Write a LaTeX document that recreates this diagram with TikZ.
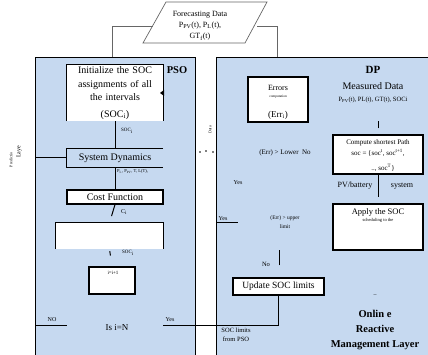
\documentclass[tikz,border=0pt]{standalone}
\usepackage{fontspec}
\setmainfont{Liberation Serif}
\usepackage{xcolor}
\usepackage{tikz}
\definecolor{layerblue}{RGB}{198,217,240}

\begin{document}
\begin{tikzpicture}[x=1pt,y=-1pt,
  layer/.style={draw=black,line width=1.2pt,fill=layerblue,inner sep=0pt},
  wbox/.style={fill=white,inner sep=0pt,align=center},
  bx/.style={draw=black,line width=1.2pt,fill=white,inner sep=0pt,align=center},
  edge/.style={line width=1.2pt},
  flow/.style={line width=1pt},
  thinline/.style={draw=black!60,line width=0.7pt},
  lbl/.style={inner sep=0pt,align=center,font=\fontsize{6}{7}\selectfont},
  txt/.style={inner sep=0pt,align=center,font=\fontsize{10}{14}\selectfont}]
\useasboundingbox (0,0) rectangle (428,355);
\clip (0,0) rectangle (428,355);
%\draw[color=black!20,step=10] (0,0) grid (428,355);

% forecasting data
\draw[thinline] (143,43) -- (166,2) -- (267,2) -- (245,43) -- cycle;
\node[inner sep=0pt,align=center,font=\fontsize{8}{11}\selectfont] (fc) at (200,26)
  {Forecasting Data\\P\textsubscript{PV}(t), P\textsubscript{L}(t),\\GT\textsubscript{f}(t)};
\coordinate (fcL) at (153,26);
\coordinate (fcR) at (257,26);

% the two layers
\node[layer,minimum width=160,minimum height=330,anchor=north west] (pso) at (35,57) {};
\node[layer,minimum width=224,minimum height=330,anchor=north west] (dp) at (216,57) {};
\draw[thinline] (fcL) -- (112,26) -- (112,57);
\draw[thinline] (fcR) -- (277,26) -- (277,57);

% PSO
\node[wbox,text width=92,minimum width=96,minimum height=56,font=\fontsize{10}{13.5}\selectfont] (init) at (115,93)
  {Initialize the SOC\\assignments of all\\the intervals\\[3pt](SOC\textsubscript{i})};
\draw[edge] (init.south west) -- (init.north west) -- (init.north east) -- (init.south east);
\fill (160,93) -- (164,90) -- (164,96) -- cycle;
\node[inner sep=0pt,font=\bfseries\fontsize{10.5}{12}\selectfont] (psot) at (177,70) {PSO};

\node[txt,minimum width=96,minimum height=19] (sd) at (115,158) {System Dynamics};
\draw[edge] (sd.north east) -- (sd.north west) -- (sd.south west) -- (sd.south east);
\draw[flow] (pso.west |- sd.west) -- (sd.west);
\node[lbl,anchor=west,font=\fontsize{4.5}{5}\selectfont] at (117,171) {P\textsubscript{L}, P\textsubscript{PV}, T, L(T),};

\node[bx,minimum width=96,minimum height=14,font=\fontsize{10}{12}\selectfont] (cost) at (115,197) {Cost Function};

\node[wbox,minimum width=107,minimum height=26] (opt) at (109.5,236) {};
\draw[edge] (opt.south west) -- (opt.north west) -- (opt.north east) -- (opt.south east);

\node[bx,minimum width=46,minimum height=27] (inc) at (112,280.5) {};
\node[lbl,font=\fontsize{5}{6}\selectfont] at (113,273) {i=i+1};

\node[inner sep=0pt,font=\fontsize{9}{11}\selectfont] (isn) at (117,328) {Is i=N};

\draw[flow] (init.south) -- (sd.north);
\draw[flow] (sd.south) -- (cost.north);
\draw[flow,shorten >=7pt] (cost.south) -- (opt.north);
\draw[flow,shorten <=2pt,shorten >=11pt] (opt.south) -- (inc.north);
\node[lbl,font=\fontsize{5}{6}\selectfont] at (127,131) {SOC\textsubscript{i}};
\node[lbl] at (124,212) {C\textsubscript{i}};
\node[lbl,font=\fontsize{5}{6}\selectfont] at (128,253) {SOC\textsubscript{i}};

\coordinate (noend) at (67,325);
\coordinate (yesend) at (163,325);
\draw[flow] (pso.west |- noend) -- (noend);
\node[lbl] at (52,320) {NO};
\node[lbl] at (170,320) {Yes};

% prediction layer text
\node[lbl,rotate=90] at (19,152) {Laye};
\node[lbl,rotate=90,font=\fontsize{4}{5}\selectfont] at (11,160) {Predictio};
\node[lbl,rotate=90,font=\fontsize{4}{5}\selectfont] at (210,130) {Data};
\fill (200,152) circle (0.9) (206,151) circle (0.9) (213,152) circle (0.9);

% DP
\node[inner sep=0pt,font=\bfseries\fontsize{11}{12}\selectfont] (dpt) at (373,70) {DP};
\node[inner sep=0pt,font=\fontsize{10}{12}\selectfont] (meas) at (373,86) {Measured Data};
\node[lbl,font=\fontsize{6.5}{8}\selectfont] at (373,100) {P\textsubscript{PV}(t), PL(t), GT(t), SOCi};

\node[bx,minimum width=60,minimum height=45] (err) at (278,99.5) {};
\node[inner sep=0pt,font=\fontsize{8}{9}\selectfont] at (278,88) {Errors};
\node[lbl,font=\fontsize{3.5}{4}\selectfont] at (278,97) {computation};
\node[inner sep=0pt,font=\fontsize{9}{10}\selectfont] at (278,115) {(Err\textsubscript{i})};

\node[bx,minimum width=90,minimum height=39] (csp) at (378,154.5) {};
\node[lbl,font=\fontsize{7}{8}\selectfont] at (378,143) {Compute shortest Path};
\node[lbl,font=\fontsize{7}{8}\selectfont] at (378,153) {soc = \{soc\textsuperscript{t}, soc\textsuperscript{t+1},};
\node[lbl,font=\fontsize{7}{8}\selectfont] at (383,168) {.., soc\textsuperscript{T}\}};
\draw[flow] (csp.north) ++(0,-6) -- ++(0,-7);

\node[lbl,font=\fontsize{7}{8}\selectfont] at (285,153) {(Err) > Lower\ \ No};
\node[lbl] at (238,183) {Yes};

\node[bx,minimum width=90,minimum height=46] (app) at (378,227) {};
\node[lbl,font=\fontsize{8.5}{9}\selectfont] at (378,212) {Apply the SOC};
\node[lbl,font=\fontsize{4.5}{5}\selectfont] at (378,220) {scheduling to the};
\draw[flow,shorten >=6pt] (csp.south) -- (app.north);
\node[lbl,font=\fontsize{8}{9}\selectfont] at (355,186) {PV/battery};
\node[lbl,font=\fontsize{8}{9}\selectfont] at (402,186) {system};

\node[lbl] (yes2) at (223,219) {Yes};
\draw[flow] (dp.west |- 0,223) -- (238,223);
\node[lbl,font=\fontsize{5.5}{9}\selectfont] at (285,222) {(Err) > upper\\limit};
\node[lbl,font=\fontsize{6.5}{8}\selectfont] at (266,264) {No};

\node[bx,minimum width=91,minimum height=17,font=\fontsize{9.5}{11}\selectfont] (upd) at (278.5,286.5) {Update SOC limits};
\draw[flow] (upd.north) ++(1,-12) -- ++(0,-15);
\draw[flow] (yesend) -- (upd.south |- yesend) -- (upd.south);
\node[lbl,font=\fontsize{6.5}{9}\selectfont] at (236,335) {SOC limits\\from PSO};

\node[lbl] at (375,296) {--};
\node[inner sep=0pt,align=center,font=\bfseries\fontsize{10.5}{15}\selectfont] (onl) at (375,330)
  {Onlin e\\Reactive\\Management Layer};
\end{tikzpicture}
\end{document}
